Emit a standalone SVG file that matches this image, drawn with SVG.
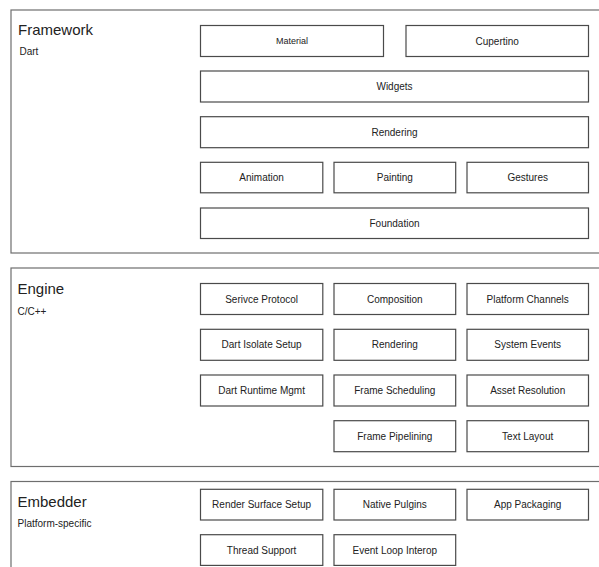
<svg xmlns="http://www.w3.org/2000/svg" width="599" height="567" viewBox="0 0 599 567">
<style>
.panel{fill:#fff;stroke:#6e6e6e;stroke-width:1.2}
.box{fill:#fff;stroke:#4a4a4a;stroke-width:1.2}
.t{font-family:"Liberation Sans",Arial,sans-serif;fill:#222}
.title{font-size:15px}
.sub{font-size:10px}
.lbl{font-size:10px;text-anchor:middle}
.sm{font-size:9px;text-anchor:middle}
</style>
<rect width="599" height="567" fill="#fff"/>
<g id="framework">
<rect class="panel" x="11" y="10" width="600" height="243"/>
<text class="t title" x="18" y="34.5">Framework</text>
<text class="t sub" x="19.5" y="54.5">Dart</text>
</g>
<g id="engine">
<rect class="panel" x="11" y="268" width="600" height="198.5"/>
<text class="t title" x="17.5" y="293.5">Engine</text>
<text class="t sub" x="17.5" y="315">C/C++</text>
</g>
<g id="embedder">
<rect class="panel" x="11" y="481.5" width="600" height="100"/>
<text class="t title" x="17.5" y="507">Embedder</text>
<text class="t sub" x="17.5" y="527">Platform-specific</text>
</g>
<g id="material"><rect class="box" x="200.5" y="25.5" width="183" height="31"/><text class="t sm" x="292" y="44">Material</text></g>
<g id="cupertino"><rect class="box" x="406" y="25.5" width="182.5" height="31"/><text class="t lbl" x="497.2" y="44.5">Cupertino</text></g>
<g id="widgets"><rect class="box" x="200.5" y="71" width="388" height="31"/><text class="t lbl" x="394.5" y="90">Widgets</text></g>
<g id="rendering-fw"><rect class="box" x="200.5" y="116.7" width="388" height="31"/><text class="t lbl" x="394.5" y="135.7">Rendering</text></g>
<g id="animation"><rect class="box" x="200.5" y="162.3" width="122.3" height="30.5"/><text class="t lbl" x="261.6" y="181.3">Animation</text></g>
<g id="painting"><rect class="box" x="334" y="162.3" width="121.7" height="30.5"/><text class="t lbl" x="394.8" y="181.3">Painting</text></g>
<g id="gestures"><rect class="box" x="467" y="162.3" width="121.5" height="30.5"/><text class="t lbl" x="527.7" y="181.3">Gestures</text></g>
<g id="foundation"><rect class="box" x="200.5" y="208" width="388" height="30.5"/><text class="t lbl" x="394.5" y="226.8">Foundation</text></g>

<g id="service-protocol"><rect class="box" x="200.5" y="283.5" width="122.3" height="31"/><text class="t lbl" x="261.6" y="302.5">Serivce Protocol</text></g>
<g id="composition"><rect class="box" x="334" y="283.5" width="121.7" height="31"/><text class="t lbl" x="394.8" y="302.5">Composition</text></g>
<g id="platform-channels"><rect class="box" x="467" y="283.5" width="121.5" height="31"/><text class="t lbl" x="527.7" y="302.5">Platform Channels</text></g>
<g id="dart-isolate-setup"><rect class="box" x="200.5" y="329.3" width="122.3" height="31"/><text class="t lbl" x="261.6" y="348.3">Dart Isolate Setup</text></g>
<g id="rendering-engine"><rect class="box" x="334" y="329.3" width="121.7" height="31"/><text class="t lbl" x="394.8" y="348.3">Rendering</text></g>
<g id="system-events"><rect class="box" x="467" y="329.3" width="121.5" height="31"/><text class="t lbl" x="527.7" y="348.3">System Events</text></g>
<g id="dart-runtime-mgmt"><rect class="box" x="200.5" y="375" width="122.3" height="31"/><text class="t lbl" x="261.6" y="394">Dart Runtime Mgmt</text></g>
<g id="frame-scheduling"><rect class="box" x="334" y="375" width="121.7" height="31"/><text class="t lbl" x="394.8" y="394">Frame Scheduling</text></g>
<g id="asset-resolution"><rect class="box" x="467" y="375" width="121.5" height="31"/><text class="t lbl" x="527.7" y="394">Asset Resolution</text></g>
<g id="frame-pipelining"><rect class="box" x="334" y="420.7" width="121.7" height="31"/><text class="t lbl" x="394.8" y="439.5">Frame Pipelining</text></g>
<g id="text-layout"><rect class="box" x="467" y="420.7" width="121.5" height="31"/><text class="t lbl" x="527.7" y="439.5">Text Layout</text></g>

<g id="render-surface-setup"><rect class="box" x="200.5" y="489.3" width="122.3" height="30.7"/><text class="t lbl" x="261.6" y="508.2">Render Surface Setup</text></g>
<g id="native-plugins"><rect class="box" x="334" y="489.3" width="121.7" height="30.7"/><text class="t lbl" x="394.8" y="508.2">Native Pulgins</text></g>
<g id="app-packaging"><rect class="box" x="467" y="489.3" width="121.5" height="30.7"/><text class="t lbl" x="527.7" y="508.2">App Packaging</text></g>
<g id="thread-support"><rect class="box" x="200.5" y="534.7" width="122.3" height="30.7"/><text class="t lbl" x="261.6" y="553.5">Thread Support</text></g>
<g id="event-loop-interop"><rect class="box" x="334" y="534.7" width="121.7" height="30.7"/><text class="t lbl" x="394.8" y="553.5">Event Loop Interop</text></g>
<g id="connectors"></g>
</svg>
